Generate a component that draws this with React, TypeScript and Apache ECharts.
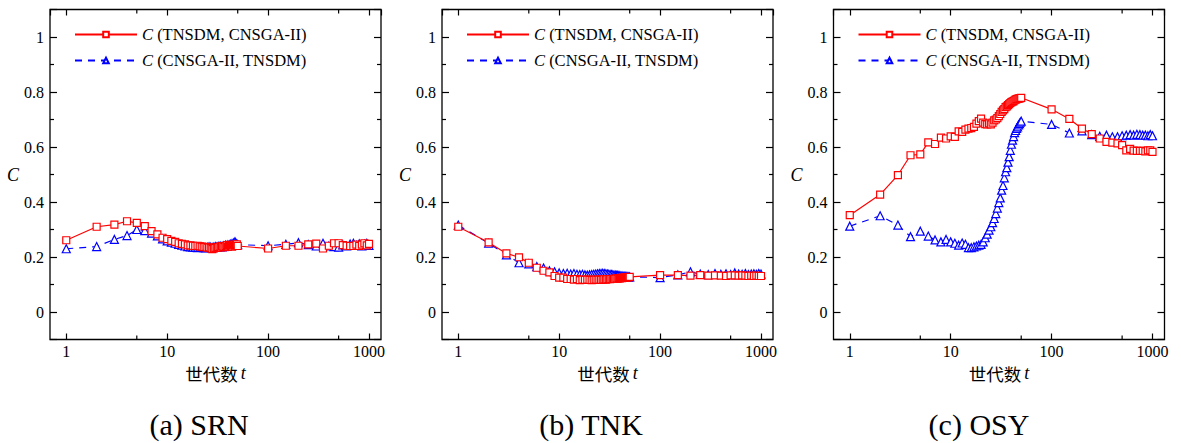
import React, { useEffect, useRef } from 'react';
import * as echarts from 'echarts';

const generations = [
  1, 2, 3, 4, 5, 6, 7, 8, 9, 10, 11, 12, 13, 14, 15, 16, 17, 18, 19, 20, 21, 22, 23, 24, 25,
  26, 27, 28, 29, 30, 31, 32, 33, 34, 35, 36, 37, 38, 39, 40, 41, 42, 43, 44, 45, 46, 47, 48, 49, 50,
  100, 150, 200, 250, 300, 350, 400, 450, 500, 550, 600, 650, 700, 750, 800, 850, 900, 950, 1000,
];

const seriesNames = ['C (TNSDM, CNSGA-II)', 'C (CNSGA-II, TNSDM)'];
const panelCaptions = ['(a) SRN', '(b) TNK', '(c) OSY'];
const minorXTicks = [5, 50, 500];

const srnTnsdm = [
  0.261, 0.31, 0.318, 0.33, 0.324, 0.312, 0.294, 0.282, 0.27, 0.265, 0.259, 0.255, 0.25, 0.248, 0.246,
  0.242, 0.242, 0.241, 0.24, 0.241, 0.239, 0.238, 0.236, 0.237, 0.234, 0.235, 0.232, 0.229, 0.231, 0.233,
  0.234, 0.236, 0.238, 0.235, 0.24, 0.238, 0.236, 0.24, 0.243, 0.238, 0.241, 0.244, 0.24, 0.238, 0.242, 0.245, 0.241, 0.243, 0.246, 0.24,
  0.231, 0.241, 0.241, 0.246, 0.249, 0.231, 0.241, 0.25, 0.25, 0.243, 0.241, 0.24, 0.24, 0.245, 0.24, 0.245, 0.25, 0.242, 0.248,
];
const srnCnsga = [
  0.23, 0.238, 0.264, 0.278, 0.3, 0.296, 0.287, 0.277, 0.266, 0.259, 0.254, 0.25, 0.246, 0.243, 0.24,
  0.238, 0.237, 0.236, 0.235, 0.234, 0.235, 0.236, 0.234, 0.233, 0.235, 0.237, 0.236, 0.234, 0.236, 0.238,
  0.236, 0.239, 0.238, 0.24, 0.237, 0.241, 0.24, 0.243, 0.24, 0.244, 0.242, 0.246, 0.248, 0.245, 0.25, 0.252, 0.255, 0.25, 0.247, 0.245,
  0.241, 0.246, 0.252, 0.245, 0.24, 0.25, 0.24, 0.238, 0.236, 0.244, 0.24, 0.247, 0.25, 0.242, 0.248, 0.24, 0.247, 0.25, 0.242,
];
const tnkTnsdm = [
  0.31, 0.253, 0.213, 0.199, 0.179, 0.161, 0.15, 0.144, 0.131, 0.125, 0.125, 0.12, 0.12, 0.118, 0.12,
  0.116, 0.118, 0.117, 0.118, 0.117, 0.116, 0.117, 0.118, 0.117, 0.118, 0.117, 0.118, 0.119, 0.118, 0.119,
  0.12, 0.119, 0.12, 0.121, 0.12, 0.121, 0.122, 0.121, 0.123, 0.122, 0.124, 0.123, 0.125, 0.124, 0.126, 0.125, 0.127, 0.126, 0.127, 0.128,
  0.134, 0.134, 0.132, 0.134, 0.132, 0.133, 0.132, 0.131, 0.133, 0.133, 0.132, 0.133, 0.132, 0.131, 0.132, 0.131, 0.132, 0.131, 0.131,
];
const tnkCnsga = [
  0.316, 0.25, 0.208, 0.179, 0.175, 0.165, 0.16, 0.15, 0.146, 0.142, 0.14, 0.141, 0.138, 0.14, 0.137,
  0.136, 0.137, 0.135, 0.134, 0.135, 0.136, 0.137, 0.138, 0.139, 0.14, 0.14, 0.141, 0.14, 0.139, 0.138,
  0.137, 0.136, 0.136, 0.135, 0.134, 0.134, 0.133, 0.133, 0.132, 0.132, 0.131, 0.131, 0.13, 0.13, 0.13, 0.129, 0.129, 0.128, 0.128, 0.128,
  0.125, 0.135, 0.146, 0.138, 0.136, 0.14, 0.137, 0.139, 0.136, 0.142, 0.138, 0.137, 0.14, 0.136, 0.138, 0.139, 0.137, 0.14, 0.138,
];
const osyTnsdm = [
  0.352, 0.427, 0.498, 0.57, 0.573, 0.617, 0.611, 0.634, 0.631, 0.639, 0.637, 0.657, 0.655, 0.663, 0.667,
  0.669, 0.673, 0.685, 0.694, 0.703, 0.689, 0.683, 0.682, 0.686, 0.682, 0.689, 0.697, 0.7, 0.705, 0.712,
  0.72, 0.728, 0.733, 0.738, 0.745, 0.748, 0.752, 0.756, 0.76, 0.763, 0.765, 0.767, 0.77, 0.772, 0.774, 0.775, 0.776, 0.777, 0.778, 0.779,
  0.737, 0.702, 0.667, 0.647, 0.631, 0.619, 0.616, 0.613, 0.607, 0.588, 0.593, 0.587, 0.586, 0.586, 0.586, 0.584, 0.588, 0.588, 0.582,
];
const osyCnsga = [
  0.312, 0.35, 0.316, 0.274, 0.294, 0.276, 0.262, 0.255, 0.264, 0.255, 0.25, 0.243, 0.251, 0.246, 0.234,
  0.234, 0.237, 0.24, 0.243, 0.246, 0.255, 0.27, 0.283, 0.298, 0.31, 0.325, 0.34, 0.358, 0.378, 0.398,
  0.415, 0.443, 0.46, 0.488, 0.51, 0.525, 0.545, 0.565, 0.588, 0.61, 0.625, 0.638, 0.652, 0.66, 0.668, 0.673, 0.68, 0.685, 0.69, 0.694,
  0.682, 0.651, 0.659, 0.645, 0.639, 0.643, 0.637, 0.637, 0.641, 0.643, 0.645, 0.643, 0.646, 0.645, 0.643, 0.643, 0.641, 0.645, 0.641,
];

const SERIF = 'Liberation Serif';
const CJK = 'Noto Sans CJK SC';
const WIDTH = 1181;
const HEIGHT = 443;
const GRID_LEFTS = [50, 442, 833.5];
const GRID_W = 331;
const GRID_TOP = 9.5;
const GRID_H = 330;
const X_MIN = 0.69;
const X_MAX = 1315;
const RED = '#ff0000';
const BLUE = '#0000ff';

export default function App() {
  const ref = useRef<HTMLDivElement>(null);

  useEffect(() => {
    if (!ref.current) return;
    const chart = echarts.init(ref.current, null, { renderer: 'svg' });
    const panels = [
      [srnTnsdm, srnCnsga],
      [tnkTnsdm, tnkCnsga],
      [osyTnsdm, osyCnsga],
    ];
    const grid: any[] = [];
    const xAxis: any[] = [];
    const yAxis: any[] = [];
    const series: any[] = [];
    const legend: any[] = [];
    const tickLine = { color: '#000', width: 1.2 };

    panels.forEach((p, i) => {
      grid.push({
        left: GRID_LEFTS[i], top: GRID_TOP, width: GRID_W, height: GRID_H,
        show: true, borderColor: '#000', borderWidth: 1.3, backgroundColor: 'transparent',
      });
      xAxis.push({
        type: 'log', logBase: 10, gridIndex: i, position: 'bottom', min: X_MIN, max: X_MAX,
        axisLine: { show: false, onZero: false },
        axisTick: { inside: true, length: 6, lineStyle: tickLine },
        axisLabel: {
          showMinLabel: false, showMaxLabel: false, fontFamily: SERIF, fontSize: 16, color: '#000', margin: 4,
          formatter: (v: number) => String(Math.round(v)),
        },
        splitLine: { show: false },
        name: '{z|世代数} {i|t}', nameLocation: 'middle', nameGap: 21,
        nameTextStyle: {
          color: '#000',
          rich: {
            z: { fontFamily: CJK, fontSize: 17.5, color: '#000' },
            i: { fontFamily: SERIF, fontStyle: 'italic', fontSize: 18, color: '#000' },
          },
        },
      });
      xAxis.push({
        type: 'log', logBase: 10, gridIndex: i, position: 'top', min: X_MIN, max: X_MAX,
        axisLine: { show: false, onZero: false },
        axisTick: { inside: true, length: 6, lineStyle: tickLine },
        axisLabel: { show: false },
        splitLine: { show: false },
      });
      yAxis.push({
        type: 'value', gridIndex: i, position: 'left', min: -0.1, max: 1.1, splitNumber: 6,
        axisLine: { show: false, onZero: false },
        axisTick: { inside: true, length: 7, lineStyle: tickLine },
        minorTick: { show: true, splitNumber: 2, length: 4, lineStyle: tickLine },
        minorSplitLine: { show: false },
        axisLabel: {
          showMinLabel: false, showMaxLabel: false, fontFamily: SERIF, fontSize: 16, color: '#000', margin: 6,
        },
        splitLine: { show: false },
        name: 'C', nameLocation: 'middle', nameRotate: 0, nameGap: 30,
        nameTextStyle: { fontFamily: SERIF, fontStyle: 'italic', fontSize: 18, color: '#000', padding: [0, 0, 6, 0] },
      });
      yAxis.push({
        type: 'value', gridIndex: i, position: 'right', min: -0.1, max: 1.1, splitNumber: 6,
        axisLine: { show: false, onZero: false },
        axisTick: { inside: true, length: 7, lineStyle: tickLine },
        minorTick: { show: true, splitNumber: 2, length: 4, lineStyle: tickLine },
        minorSplitLine: { show: false },
        axisLabel: { show: false },
        splitLine: { show: false },
      });
      series.push({
        name: seriesNames[1], type: 'line', xAxisIndex: i * 2, yAxisIndex: i * 2,
        data: generations.map((g, k) => [g, p[1][k]]),
        symbol: 'triangle', symbolSize: 8, showSymbol: true,
        lineStyle: { color: BLUE, width: 1.2, type: [7, 6] },
        itemStyle: { color: '#fff', borderColor: BLUE, borderWidth: 1.2 },
      });
      series.push({
        name: seriesNames[0], type: 'line', xAxisIndex: i * 2, yAxisIndex: i * 2,
        data: generations.map((g, k) => [g, p[0][k]]),
        symbol: 'rect', symbolSize: 7, showSymbol: true,
        lineStyle: { color: RED, width: 1.2 },
        itemStyle: { color: '#fff', borderColor: RED, borderWidth: 1.2 },
      });
      legend.push({
        left: GRID_LEFTS[i] + 24, top: 26, orient: 'vertical', padding: 0, itemGap: 9,
        itemWidth: 62, itemHeight: 7, selectedMode: false,
        data: [seriesNames[0], seriesNames[1]],
        formatter: (n: string) => '{i|C}' + n.slice(1),
        textStyle: {
          fontFamily: SERIF, fontSize: 16.5, color: '#000',
          rich: { i: { fontFamily: SERIF, fontStyle: 'italic', fontSize: 16.5, color: '#000' } },
        },
      });
    });

    chart.setOption({
      animation: false,
      backgroundColor: '#fff',
      textStyle: { fontFamily: SERIF },
      grid, xAxis, yAxis, series, legend,
    });

    const graphics: any[] = [];
    panels.forEach((_, i) => {
      const bottom = GRID_TOP + GRID_H;
      minorXTicks.forEach((v) => {
        const px = chart.convertToPixel({ xAxisIndex: i * 2 }, v) as number;
        graphics.push({ type: 'line', shape: { x1: px, y1: bottom, x2: px, y2: bottom - 4 }, style: { stroke: '#000', lineWidth: 1.2 }, silent: true });
        graphics.push({ type: 'line', shape: { x1: px, y1: GRID_TOP, x2: px, y2: GRID_TOP + 4 }, style: { stroke: '#000', lineWidth: 1.2 }, silent: true });
      });
    });
    const captionX = [199, 591, 979];
    panelCaptions.forEach((c, i) => {
      graphics.push({
        type: 'text', x: captionX[i], y: 424,
        style: { text: c, fontFamily: SERIF, fontSize: 30, fill: '#000', align: 'center', verticalAlign: 'middle' },
      });
    });
    chart.setOption({ graphic: graphics });

    return () => chart.dispose();
  }, []);

  return (
    <div
      ref={ref}
      style={{ position: 'fixed', left: 0, top: 0, width: WIDTH, height: HEIGHT, background: '#fff' }}
    />
  );
}
